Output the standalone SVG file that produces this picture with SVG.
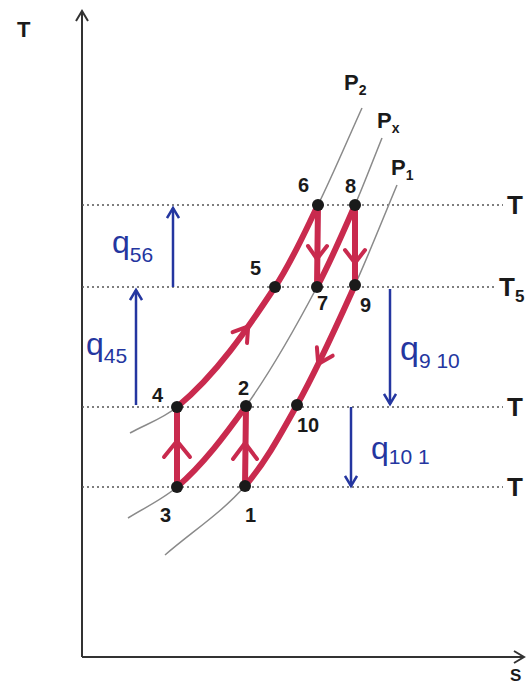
<svg xmlns="http://www.w3.org/2000/svg" width="529" height="685" viewBox="0 0 529 685">
<defs>
<style>
.axis{stroke:#333;stroke-width:2;fill:none}
.dot{stroke:#555;stroke-width:1.5;stroke-dasharray:2 3;fill:none}
.iso{stroke:#8a8a8a;stroke-width:1.5;fill:none}
.red{stroke:#c92a4e;stroke-width:6;fill:none;stroke-linecap:round;stroke-linejoin:round}
.chev{stroke:#c92a4e;stroke-width:4;fill:none;stroke-linecap:round;stroke-linejoin:round}
.blue{stroke:#2436a0;stroke-width:2.5;fill:none}
.pt{fill:#1a1a1a}
.lbl{font-family:"Liberation Sans",Arial,sans-serif;font-weight:bold;fill:#1a1a1a}
.bl{font-family:"Liberation Sans",Arial,sans-serif;fill:#2436a0}
</style>
<marker id="ah" markerWidth="14" markerHeight="14" refX="11" refY="7" orient="auto" markerUnits="userSpaceOnUse">
<path d="M1,1 L11,7 L1,13" fill="none" stroke="#2436a0" stroke-width="2.5"/>
</marker>
<marker id="ak" markerWidth="14" markerHeight="14" refX="11" refY="7" orient="auto" markerUnits="userSpaceOnUse">
<path d="M1,1 L11,7 L1,13" fill="none" stroke="#333" stroke-width="2"/>
</marker>
</defs>

<g id="axes">
<line class="axis" x1="82" y1="657" x2="82" y2="11" marker-end="url(#ak)"/>
<line class="axis" x1="82" y1="657" x2="524" y2="657" marker-end="url(#ak)"/>
<text class="lbl" x="17" y="37" font-size="22">T</text>
<text class="lbl" x="510" y="681" font-size="17">S</text>
</g>

<g id="isotherms">
<line class="dot" x1="82" y1="205" x2="503" y2="205"/>
<line class="dot" x1="82" y1="287" x2="497" y2="287"/>
<line class="dot" x1="82" y1="407" x2="503" y2="407"/>
<line class="dot" x1="82" y1="487" x2="503" y2="487"/>
<text class="lbl" x="507" y="214" font-size="26">T</text>
<text class="lbl" x="499" y="296" font-size="26">T<tspan font-size="17" dy="6">5</tspan></text>
<text class="lbl" x="507" y="416" font-size="26">T</text>
<text class="lbl" x="507" y="496" font-size="26">T</text>
</g>

<g id="isobars">
<path class="iso" d="M130,433 C145.8,424.3 163.2,418.5 177,407 C216.9,373.7 246.3,330.4 275,287 C292.1,261.1 304.4,232.8 318,205 C333.4,173.6 347.5,139.9 362,108"/>
<path class="iso" d="M128,518 C144.1,507.9 162.6,499.4 177,487 C203.5,464.1 225.6,434.5 246,406 C272.8,368.6 295.5,327.7 317,287 C331,260.5 343.1,232.5 355,205 C364.5,183 373,160.3 382,138"/>
<path class="iso" d="M165,555 C191.5,532.1 222,512.4 245,486 C266,461.8 281.4,432.9 297,405 C318.5,366.6 336.9,325.1 355,285 C369.8,252.2 383.1,218.2 397,185"/>
<text class="lbl" x="344" y="90" font-size="22">P<tspan font-size="14" dy="5">2</tspan></text>
<text class="lbl" x="377" y="128" font-size="22">P<tspan font-size="14" dy="5">x</tspan></text>
<text class="lbl" x="391" y="175" font-size="22">P<tspan font-size="14" dy="5">1</tspan></text>
</g>

<g id="connectors">
<path class="red" d="M177,487 L177,407"/>
<path class="red" d="M245,486 L246,406"/>
<path class="red" d="M177,487 C203.5,464.1 225.6,434.5 246,406"/>
<path class="red" d="M177,407 C216.9,373.7 246.3,330.4 275,287 C292.1,261.1 304.4,232.8 318,205"/>
<path class="red" d="M318,205 L317,287"/>
<path class="red" d="M317,287 C331,260.5 343.1,232.5 355,205"/>
<path class="red" d="M355,205 L355,285"/>
<path class="red" d="M355,285 C336.9,325.1 318.5,366.6 297,405 C281.4,432.9 266,461.8 245,486"/>
<polyline class="chev" points="164,457 177,441 190,457"/>
<polyline class="chev" points="233,459 245,443 257,459"/>
<polyline class="chev" points="308,246 317,259 327,246"/>
<polyline class="chev" points="345,250 355,263 365,250"/>
<polyline class="chev" points="232.6,332.2 248.2,326.4 247,343"/>
<polyline class="chev" points="316.9,347.3 318.2,363.9 332.7,355.7"/>
<line class="blue" x1="173" y1="287" x2="173" y2="208" marker-end="url(#ah)"/>
<line class="blue" x1="136" y1="405" x2="136" y2="290" marker-end="url(#ah)"/>
<line class="blue" x1="390" y1="289" x2="390" y2="404" marker-end="url(#ah)"/>
<line class="blue" x1="351" y1="407" x2="351" y2="486" marker-end="url(#ah)"/>
</g>

<g id="heat-labels">
<text class="bl" x="112" y="253" font-size="32">q<tspan font-size="21" dy="9">56</tspan></text>
<text class="bl" x="86" y="355" font-size="32">q<tspan font-size="21" dy="8">45</tspan></text>
<text class="bl" x="400" y="360" font-size="34">q<tspan font-size="21" dy="8">9 10</tspan></text>
<text class="bl" x="371" y="459" font-size="32">q<tspan font-size="21" dy="5">10 1</tspan></text>
</g>

<g id="n1"><circle class="pt" cx="245" cy="486" r="6"/><text class="lbl" x="245" y="522" font-size="20">1</text></g>
<g id="n2"><circle class="pt" cx="246" cy="406" r="6"/><text class="lbl" x="238" y="395" font-size="20">2</text></g>
<g id="n3"><circle class="pt" cx="177" cy="487" r="6"/><text class="lbl" x="160" y="522" font-size="20">3</text></g>
<g id="n4"><circle class="pt" cx="177" cy="407" r="6"/><text class="lbl" x="152" y="402" font-size="20">4</text></g>
<g id="n5"><circle class="pt" cx="275" cy="287" r="6"/><text class="lbl" x="250" y="275" font-size="20">5</text></g>
<g id="n6"><circle class="pt" cx="318" cy="205" r="6"/><text class="lbl" x="298" y="192" font-size="20">6</text></g>
<g id="n7"><circle class="pt" cx="317" cy="287" r="6"/><text class="lbl" x="317" y="310" font-size="20">7</text></g>
<g id="n8"><circle class="pt" cx="355" cy="205" r="6"/><text class="lbl" x="345" y="193" font-size="20">8</text></g>
<g id="n9"><circle class="pt" cx="355" cy="285" r="6"/><text class="lbl" x="360" y="312" font-size="20">9</text></g>
<g id="n10"><circle class="pt" cx="297" cy="405" r="6"/><text class="lbl" x="297" y="432" font-size="20">10</text></g>
</svg>
